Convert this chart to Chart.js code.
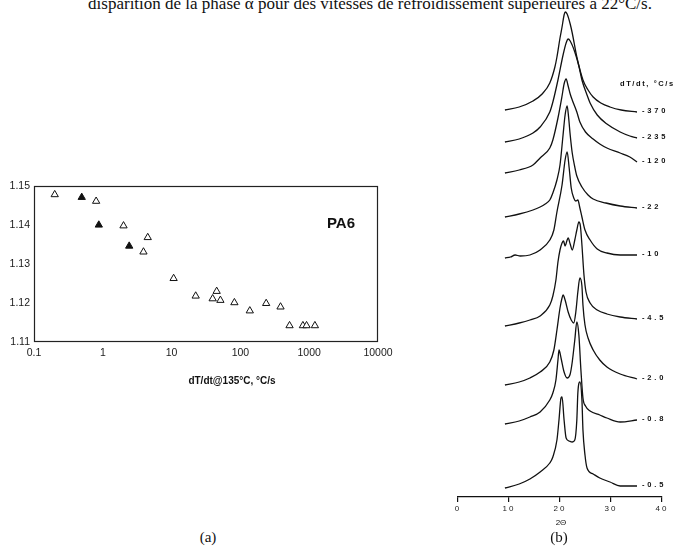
<!DOCTYPE html>
<html>
<head>
<meta charset="utf-8">
<script src="https://cdn.jsdelivr.net/npm/chart.js@4/dist/chart.umd.min.js"></script>
<style>
  html, body { margin:0; padding:0; background:#fff; }
  #page { position:relative; width:689px; height:551px; overflow:hidden; background:#fff; }
  canvas { position:absolute; }
  .txt { position:absolute; font-family:"Liberation Serif","Times New Roman",serif; color:#111; white-space:nowrap; }
</style>
</head>
<body>
<div id="page">
  <div class="txt" id="caption" style="left:370px; top:-5px; font-size:17px; line-height:17px; transform:translateX(-50%);">disparition de la phase α pour des vitesses de refroidissement supérieures à 22°C/s.</div>
  <canvas id="left" width="400" height="230" style="left:0px; top:170px; width:400px; height:230px;"></canvas>
  <canvas id="right" width="249" height="551" style="left:440px; top:0px; width:249px; height:551px;"></canvas>
  <div class="txt" style="left:208px; top:529px; font-size:15px; line-height:16px; transform:translateX(-50%);">(a)</div>
  <div class="txt" style="left:559px; top:529px; font-size:15px; line-height:16px; transform:translateX(-50%);">(b)</div>
</div>
<script>
// ---------- (a) lattice spacing ratio vs cooling rate ----------
const openRate     = [0.2, 0.8, 2.0, 4.5, 3.9, 10.7, 22.4, 39.5, 45.2, 51.2, 81.8, 137, 237, 383, 518, 810, 915, 1210];
const openSpacing  = [1.1478, 1.1461, 1.1398, 1.1368, 1.1331, 1.1263, 1.1218, 1.1211, 1.1230, 1.1207, 1.1201, 1.1180, 1.1199, 1.1190, 1.1142, 1.1142, 1.1142, 1.1142];
const filledRate    = [0.494, 0.875, 2.42];
const filledSpacing = [1.1471, 1.1400, 1.1346];
const xTicksA = [0.1, 1, 10, 100, 1000, 10000];
const yTicksA = [1.11, 1.12, 1.13, 1.14, 1.15];

// ---------- (b) WAXD patterns, stacked ----------
const rateLabels = ['-370', '-235', '-120', '-22', '-10', '-4.5', '-2.0', '-0.8', '-0.5'];
const theta370 = [9.2,12,14.7,16.5,18.0,19.0,19.4,20.0,20.4,20.8,21.0,21.4,22.0,22.4,23.3,24.5,25.5,26.5,28,29.8,32,35.1];
const int370   = [387,390,396,403,414,430,440,459,470,482,485,483,473,464,440,417,407,400,394,390,387,385];
const theta235 = [9.2,12,14.7,16.1,18.0,18.6,19.6,20.6,21.2,21.6,22.0,22.9,23.7,24.3,25.3,25.9,27.3,29.2,31.8,33.7,35.1];
const int235   = [355,358,364,370,385,395,417,442,454,458,456,445,431,417,402,394,382,373,365,361,359];
const theta120 = [9.2,12,14.7,16.1,18.0,18.6,19.6,20.4,20.8,21.2,21.6,22.0,22.4,23.3,23.9,25.0,26.5,27.8,29.2,31.8,33.7,35.1];
const int120   = [324,327,332,339,349,357,379,401,413,418,411,403,397,385,375,365,358,353,349,344,340,335];
const theta22  = [9.2,12,14.7,16.1,17.1,18.0,18.6,19.4,20.0,20.6,21.0,21.4,21.7,22.0,22.4,22.9,23.3,24.3,25.5,26.5,29.0,31.8,35.1];
const int22    = [280,283,287,290,293,297,304,317,332,362,382,391,379,362,344,330,321,310,302,298,294,291,289];
const theta10  = [9.2,10.3,11.2,12.2,14.1,16.1,18.0,18.8,19.4,20.4,21.0,21.4,21.8,22.2,22.7,23.1,23.5,23.9,24.3,24.9,25.9,27.3,29.2,31.8,35.1];
const int10    = [239,240,242,241,242,247,257,267,285,312,337,345,329,309,299,296,297,289,280,267,257,248,244,242,242];
const theta4_5 = [9.2,12,14.1,16.1,18.0,18.6,19.2,19.6,20.0,20.4,20.7,21.0,21.4,21.6,22.0,22.4,22.9,23.3,23.7,24.0,24.3,24.7,25.1,25.9,27.3,29.2,31.8,35.1];
const int4_5   = [171,174,177,181,192,201,217,235,247,254,256,251,257,259,253,247,257,267,275,271,252,222,205,194,187,183,180,178];
const theta2_0 = [9.2,12,14.1,16.1,18.0,18.8,19.4,20.0,20.4,20.6,21.0,21.6,22.2,22.7,23.1,23.5,23.9,24.3,24.5,24.9,25.5,26.5,27.8,29.2,31.8,35.1];
const int2_0   = [112,115,119,125,135,147,167,189,199,202,197,185,177,174,185,205,219,211,192,172,159,147,137,130,123,118];
const theta0_8 = [9.2,12,14.1,16.1,18.0,18.6,19.2,19.6,19.8,20.2,20.8,21.4,22.0,22.4,22.9,23.3,23.7,24.1,24.5,25.0,25.9,27.8,29.2,31.8,35.1];
const int0_8   = [73,76,80,85,97,104,117,137,147,139,125,119,123,135,157,175,162,127,99,91,86,82,79,75,77];
const theta0_5 = [9.2,12,14.1,16.1,18.0,18.6,19.4,19.8,20.2,20.4,20.8,21.2,21.8,22.4,22.9,23.3,23.5,23.9,24.3,24.5,24.9,25.3,26.5,27.8,29.8,31.8,35.1];
const int0_5   = [9,13,18,25,34,40,57,77,99,100,77,59,56,55,57,77,104,115,97,67,42,29,23,19,15,11,11];
const xTicksB = [0, 10, 20, 30, 40];

const thetaSets = [theta370, theta235, theta120, theta22, theta10, theta4_5, theta2_0, theta0_8, theta0_5];
const intSets   = [int370, int235, int120, int22, int10, int4_5, int2_0, int0_8, int0_5];

// ---------------- chart (a) ----------------
const frameA = {
  id: 'frameA',
  beforeDatasetsDraw(chart) {
    const { ctx, chartArea: a } = chart;
    ctx.save();
    ctx.strokeStyle = '#222';
    ctx.lineWidth = 1.2;
    ctx.strokeRect(a.left + 0.5, a.top + 0.5, a.right - a.left - 1, a.bottom - a.top - 1);
    ctx.restore();
  },
  afterDraw(chart) {
    const { ctx, chartArea: a } = chart;
    ctx.save();
    ctx.fillStyle = '#111';
    ctx.textAlign = 'center';
    ctx.textBaseline = 'middle';
    ctx.font = 'bold 15px "Liberation Sans", Arial, sans-serif';
    ctx.fillText('PA6', a.right - 37, a.top + 38);
    ctx.font = 'bold 10px "Liberation Sans", Arial, sans-serif';
    ctx.fillText('dT/dt@135°C, °C/s', 232, a.bottom + 39);
    ctx.restore();
  }
};

new Chart(document.getElementById('left'), {
  type: 'scatter',
  data: {
    datasets: [
      {
        label: 'open',
        data: openRate.map((r, i) => ({ x: r, y: openSpacing[i] })),
        pointStyle: 'triangle', pointRadius: 4.2,
        backgroundColor: '#fff', borderColor: '#111', borderWidth: 1
      },
      {
        label: 'filled',
        data: filledRate.map((r, i) => ({ x: r, y: filledSpacing[i] })),
        pointStyle: 'triangle', pointRadius: 4.2,
        backgroundColor: '#111', borderColor: '#111', borderWidth: 1
      }
    ]
  },
  options: {
    responsive: false, animation: false, devicePixelRatio: 1,
    layout: { padding: { top: 16, right: 22, left: 0, bottom: 0 } },
    plugins: { legend: { display: false }, tooltip: { enabled: false } },
    scales: {
      x: {
        type: 'logarithmic', min: 0.1, max: 10000,
        grid: { display: false, drawTicks: false }, border: { display: false },
        afterBuildTicks: s => { s.ticks = xTicksA.map(v => ({ value: v })); },
        afterFit: s => { s.height = 58; },
        ticks: {
          padding: 5, maxRotation: 0, autoSkip: false, color: '#1a1a1a',
          font: { family: '"Liberation Sans", Arial, sans-serif', size: 10.5 },
          callback: v => String(v)
        }
      },
      y: {
        min: 1.11, max: 1.15,
        grid: { display: false, drawTicks: false }, border: { display: false },
        afterBuildTicks: s => { s.ticks = yTicksA.map(v => ({ value: v })); },
        afterFit: s => { s.width = 34; },
        ticks: {
          padding: 4, color: '#1a1a1a',
          font: { family: '"Liberation Sans", Arial, sans-serif', size: 10.5 },
          callback: v => Number(v).toFixed(2)
        }
      }
    }
  },
  plugins: [frameA]
});

// ---------------- chart (b) ----------------
const spacingB = {
  id: 'spacingB',
  beforeDraw(chart) { chart.ctx.letterSpacing = '2px'; },
  afterDraw(chart) {
    const { ctx, chartArea: a } = chart;
    ctx.save();
    ctx.fillStyle = '#111';
    ctx.textBaseline = 'middle';
    ctx.textAlign = 'left';
    ctx.font = 'bold 7.5px "Liberation Sans", Arial, sans-serif';
    ctx.letterSpacing = '2.8px';
    let firstY = null, lastX = null;
    chart.data.datasets.forEach((ds, i) => {
      const meta = chart.getDatasetMeta(i);
      const p = meta.data[meta.data.length - 1];
      if (firstY === null) { firstY = p.y; lastX = p.x; }
      ctx.fillText(rateLabels[i], p.x + 5, p.y - 1);
    });
    ctx.letterSpacing = '1.6px';
    ctx.fillText('dT/dt, °C/s', lastX - 17, firstY - 28);
    ctx.letterSpacing = '0px';
    ctx.textAlign = 'center';
    ctx.font = '8px "Liberation Sans", Arial, sans-serif';
    ctx.fillText('2Θ', (a.left + a.right) / 2 + 1, a.bottom + 26);
    ctx.restore();
  }
};

new Chart(document.getElementById('right'), {
  type: 'line',
  data: {
    datasets: intSets.map((arr, i) => ({
      label: rateLabels[i],
      data: arr.map((v, j) => ({ x: thetaSets[i][j], y: v })),
      borderColor: '#111', borderWidth: 1.3, pointRadius: 0,
      fill: false, cubicInterpolationMode: 'monotone', tension: 0.3
    }))
  },
  options: {
    responsive: false, animation: false, devicePixelRatio: 1,
    layout: { padding: { top: 0, right: 27, left: 18, bottom: 0 } },
    plugins: { legend: { display: false }, tooltip: { enabled: false } },
    scales: {
      x: {
        type: 'linear', min: 0, max: 40,
        afterBuildTicks: s => { s.ticks = xTicksB.map(v => ({ value: v })); },
        afterFit: s => { s.height = 54; },
        grid: { display: true, drawOnChartArea: false, drawTicks: true, tickLength: 5, color: '#111', lineWidth: 1.2 },
        border: { display: true, color: '#111', width: 1.2 },
        ticks: {
          padding: 2, maxRotation: 0, autoSkip: false, color: '#222',
          font: { family: '"Liberation Sans", Arial, sans-serif', size: 8 },
          callback: v => String(v)
        }
      },
      y: { display: false, min: 0, max: 497 }
    }
  },
  plugins: [spacingB]
});
</script>
</body>
</html>
